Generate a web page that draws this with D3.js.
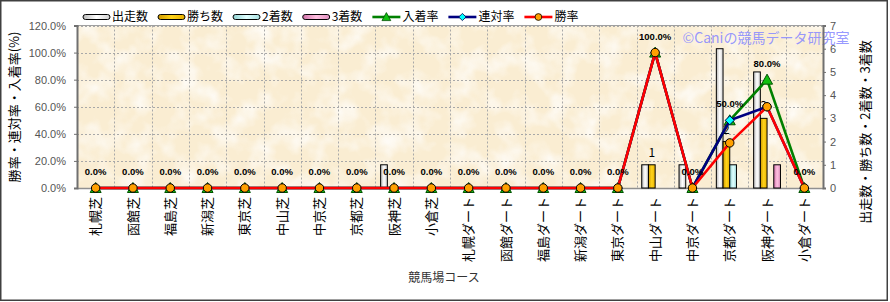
<!DOCTYPE html>
<html>
<head>
<meta charset="utf-8">
<script src="https://cdn.jsdelivr.net/npm/d3@7/dist/d3.min.js"></script>
<style>
    html, body { margin: 0; padding: 0; background: #fff; }
    #chart { width: 890px; height: 302px; }
    text { font-family: "Noto Sans CJK JP", "Noto Sans", sans-serif; }
</style>
</head>
<body>
<div id="chart"></div>
<script>
// Course names (x axis)
const courses = [
    '札幌芝', '函館芝', '福島芝', '新潟芝', '東京芝', '中山芝', '中京芝', '京都芝', '阪神芝', '小倉芝',
    '札幌ダート', '函館ダート', '福島ダート', '新潟ダート', '東京ダート',
    '中山ダート', '中京ダート', '京都ダート', '阪神ダート', '小倉ダート'
];

// Counts (right axis)
const starts  = [0, 0, 0, 0, 0, 0, 0, 0, 1, 0, 0, 0, 0, 0, 0, 1, 1, 6, 5, 0];
const wins    = [0, 0, 0, 0, 0, 0, 0, 0, 0, 0, 0, 0, 0, 0, 0, 1, 0, 2, 3, 0];
const seconds = [0, 0, 0, 0, 0, 0, 0, 0, 0, 0, 0, 0, 0, 0, 0, 0, 0, 1, 0, 0];
const thirds  = [0, 0, 0, 0, 0, 0, 0, 0, 0, 0, 0, 0, 0, 0, 0, 0, 0, 0, 1, 0];

// Rates in % (left axis)
const placeRate  = [0, 0, 0, 0, 0, 0, 0, 0, 0, 0, 0, 0, 0, 0, 0, 100, 0, 50, 80, 0];
const rentaiRate = [0, 0, 0, 0, 0, 0, 0, 0, 0, 0, 0, 0, 0, 0, 0, 100, 0, 50, 60, 0];
const winRate    = [0, 0, 0, 0, 0, 0, 0, 0, 0, 0, 0, 0, 0, 0, 0, 100, 0, 33.3, 60, 0];

// Axis ticks
const leftTicks  = [0, 20, 40, 60, 80, 100, 120];
const rightTicks = [0, 1, 2, 3, 4, 5, 6, 7];

class CourseChart {
    constructor(containerId) {
        this.width = 890;
        this.height = 302;
        this.plot = {left: 77, right: 823, top: 25.5, bottom: 188};

        this.barSeries = [
            {name: '出走数', values: starts,  grad: 'g-starts'},
            {name: '勝ち数', values: wins,    grad: 'g-wins'},
            {name: '2着数',  values: seconds, grad: 'g-second'},
            {name: '3着数',  values: thirds,  grad: 'g-third'}
        ];
        this.lineSeries = [
            {name: '入着率', values: placeRate,  color: '#008000', marker: 'triangle'},
            {name: '連対率', values: rentaiRate, color: '#000080', marker: 'diamond'},
            {name: '勝率',   values: winRate,    color: '#ff0000', marker: 'circle'}
        ];

        this.svg = d3.select(containerId).append('svg')
            .attr('width', this.width)
            .attr('height', this.height);

        this.render();
    }

    render() {
        const p = this.plot;

        this.x = d3.scaleBand().domain(courses).range([p.left, p.right]);
        this.xSub = d3.scaleBand()
            .domain(this.barSeries.map(d => d.name))
            .range([0, this.x.bandwidth()])
            .paddingInner(0)
            .paddingOuter(0.78);
        this.yLeft = d3.scaleLinear().domain([0, 120]).range([p.bottom, p.top]);
        this.yRight = d3.scaleLinear().domain([0, 7]).range([p.bottom, p.top]);

        this.defs();
        this.background();
        this.drawAxes();
        this.drawBars();
        this.drawLines();
        this.drawLegend();

        // outer frame
        this.svg.append('rect')
            .attr('x', 0.75).attr('y', 0.75)
            .attr('width', 886.5).attr('height', 299.5)
            .attr('fill', 'none')
            .attr('stroke', '#404040')
            .attr('stroke-width', 1.5);
    }

    defs() {
        const defs = this.svg.append('defs');
        const grads = {
            'g-starts': ['#b8b8b8', '#ffffff', '#d0d0d0'],
            'g-wins':   ['#d09a00', '#ffd41a', '#e8b000'],
            'g-second': ['#8fd0d0', '#e0ffff', '#a8e0e0'],
            'g-third':  ['#d070a8', '#ffc0e0', '#e090c0']
        };
        Object.entries(grads).forEach(([id, c]) => {
            const g = defs.append('linearGradient').attr('id', id)
                .attr('x1', 0).attr('x2', 1).attr('y1', 0).attr('y2', 0);
            g.append('stop').attr('offset', '0%').attr('stop-color', c[0]);
            g.append('stop').attr('offset', '50%').attr('stop-color', c[1]);
            g.append('stop').attr('offset', '100%').attr('stop-color', c[2]);
        });

        // parchment grain
        const f = defs.append('filter').attr('id', 'grain')
            .attr('x', 0).attr('y', 0).attr('width', '100%').attr('height', '100%');
        f.append('feTurbulence')
            .attr('type', 'fractalNoise')
            .attr('baseFrequency', '0.04')
            .attr('numOctaves', 3)
            .attr('seed', 7);
        f.append('feColorMatrix')
            .attr('type', 'matrix')
            .attr('values', '0 0 0 0 1  0 0 0 0 1  0 0 0 0 1  2.2 0 0 0 -0.9');
        f.append('feComposite').attr('in2', 'SourceGraphic').attr('operator', 'in');
    }

    background() {
        const p = this.plot;
        const w = p.right - p.left, h = p.bottom - p.top;

        this.svg.append('rect')
            .attr('x', p.left).attr('y', p.top)
            .attr('width', w).attr('height', h)
            .attr('fill', '#faedd2');
        this.svg.append('rect')
            .attr('x', p.left).attr('y', p.top)
            .attr('width', w).attr('height', h)
            .attr('fill', '#fff')
            .attr('filter', 'url(#grain)')
            .attr('opacity', 0.8);

        // dotted grid
        const grid = this.svg.append('g')
            .attr('stroke', '#a8a8a8')
            .attr('stroke-width', 1)
            .attr('stroke-dasharray', '2,2');
        grid.selectAll('line.h')
            .data(leftTicks.slice(1))
            .enter().append('line')
            .attr('x1', p.left).attr('x2', p.right)
            .attr('y1', d => Math.round(this.yLeft(d)) + 0.5)
            .attr('y2', d => Math.round(this.yLeft(d)) + 0.5);
        grid.selectAll('line.v')
            .data(courses.slice(1))
            .enter().append('line')
            .attr('x1', d => Math.round(this.x(d)) + 0.5)
            .attr('x2', d => Math.round(this.x(d)) + 0.5)
            .attr('y1', p.top).attr('y2', p.bottom);

        // watermark
        this.svg.append('text')
            .attr('x', 766).attr('y', 43)
            .attr('text-anchor', 'middle')
            .attr('font-size', '14px')
            .attr('fill', '#8a8cff')
            .attr('fill-opacity', 0.9)
            .text('©Caniの競馬データ研究室');
    }

    drawBars() {
        const g = this.svg.append('g');
        this.barSeries.forEach(s => {
            g.selectAll(null)
                .data(s.values.map((v, i) => ({course: courses[i], v})).filter(d => d.v > 0))
                .enter().append('rect')
                .attr('x', d => this.x(d.course) + this.xSub(s.name))
                .attr('y', d => this.yRight(d.v))
                .attr('width', this.xSub.bandwidth())
                .attr('height', d => this.yRight(0) - this.yRight(d.v))
                .attr('fill', `url(#${s.grad})`)
                .attr('stroke', '#000')
                .attr('stroke-width', 1);
        });

        // value labels on win bars
        g.selectAll('text.win-label')
            .data(wins.map((v, i) => ({course: courses[i], v})).filter(d => d.v > 0))
            .enter().append('text')
            .attr('class', 'win-label')
            .attr('x', d => this.x(d.course) + this.xSub('勝ち数') + this.xSub.bandwidth() / 2)
            .attr('y', d => this.yRight(d.v) - 8)
            .attr('text-anchor', 'middle')
            .attr('font-size', '12px')
            .attr('fill', '#000')
            .text(d => d.v);
    }

    markerPath(type) {
        if (type === 'triangle') return 'M0,-5.5L5.5,4.5L-5.5,4.5Z';
        if (type === 'diamond') return 'M0,-4.5L4.5,0L0,4.5L-4.5,0Z';
        return d3.symbol().type(d3.symbolCircle).size(56)();
    }

    markerStyle(sel, type) {
        if (type === 'triangle') sel.attr('fill', '#10c010').attr('stroke', '#005000');
        else if (type === 'diamond') sel.attr('fill', '#00ffff').attr('stroke', '#000050');
        else sel.attr('fill', '#ffa000').attr('stroke', '#000');
        sel.attr('stroke-width', 1);
    }

    drawLines() {
        const cx = d => this.x(d.course) + this.x.bandwidth() / 2;
        const line = d3.line().x(cx).y(d => this.yLeft(d.v));
        const g = this.svg.append('g');

        this.lineSeries.forEach(s => {
            const pts = s.values.map((v, i) => ({course: courses[i], v}));
            g.append('path')
                .datum(pts)
                .attr('d', line)
                .attr('fill', 'none')
                .attr('stroke', s.color)
                .attr('stroke-width', 2.6)
                .attr('stroke-linejoin', 'round');
            g.selectAll(null)
                .data(pts)
                .enter().append('path')
                .attr('transform', d => `translate(${cx(d)},${this.yLeft(d.v)})`)
                .attr('d', this.markerPath(s.marker))
                .call(sel => this.markerStyle(sel, s.marker));
        });

        // 入着率 labels
        g.selectAll('text.rate-label')
            .data(placeRate.map((v, i) => ({course: courses[i], v})))
            .enter().append('text')
            .attr('class', 'rate-label')
            .attr('x', cx)
            .attr('y', d => this.yLeft(d.v) - 13)
            .attr('text-anchor', 'middle')
            .style('font-family', '"Liberation Sans", Arial, sans-serif')
            .attr('font-size', '9.5px')
            .attr('font-weight', 'bold')
            .attr('fill', '#000')
            .text(d => d.v.toFixed(1) + '%');
    }

    drawAxes() {
        const p = this.plot;

        // plot top border
        this.svg.append('line')
            .attr('x1', p.left).attr('x2', p.right)
            .attr('y1', p.top).attr('y2', p.top)
            .attr('stroke', '#a0a0a0');

        const bottom = this.svg.append('g')
            .attr('transform', `translate(0,${p.bottom})`)
            .call(d3.axisBottom(this.x).tickSize(0).tickPadding(0));
        bottom.select('.domain').attr('stroke', '#909090').attr('stroke-width', 1.5);
        bottom.selectAll('.tick text')
            .attr('transform', 'translate(0,9) rotate(-90)')
            .attr('x', 0).attr('y', 0).attr('dy', '0.35em')
            .attr('text-anchor', 'end')
            .attr('font-size', '13px')
            .attr('fill', '#000');

        const left = this.svg.append('g')
            .attr('transform', `translate(${p.left},0)`)
            .call(d3.axisLeft(this.yLeft).tickValues(leftTicks)
                .tickFormat(d => d.toFixed(1) + '%').tickSize(3).tickPadding(8));
        const right = this.svg.append('g')
            .attr('transform', `translate(${p.right},0)`)
            .call(d3.axisRight(this.yRight).tickValues(rightTicks)
                .tickFormat(d3.format('d')).tickSize(3).tickPadding(4));
        [left, right].forEach(a => {
            a.select('.domain').attr('stroke', '#707070').attr('stroke-width', 2);
            a.selectAll('.tick line').attr('stroke', '#707070');
            a.selectAll('.tick text')
                .attr('font-size', '11px')
                .attr('fill', '#555')
                .style('font-family', '"Liberation Sans", Arial, sans-serif');
        });

        // axis titles
        this.svg.append('text')
            .attr('transform', 'translate(14,107) rotate(-90)')
            .attr('text-anchor', 'middle')
            .attr('dy', '0.35em')
            .attr('font-size', '13px')
            .attr('fill', '#000')
            .text('勝率・連対率・入着率(%)');
        this.svg.append('text')
            .attr('transform', 'translate(865,132) rotate(-90)')
            .attr('text-anchor', 'middle')
            .attr('dy', '0.35em')
            .attr('font-size', '13px')
            .attr('fill', '#000')
            .text('出走数・勝ち数・2着数・3着数');
        this.svg.append('text')
            .attr('x', 444).attr('y', 278)
            .attr('text-anchor', 'middle')
            .attr('dy', '0.35em')
            .attr('font-size', '12px')
            .attr('fill', '#333')
            .text('競馬場コース');
    }

    drawLegend() {
        const g = this.svg.append('g').attr('transform', 'translate(83,17)');
        let x = 0;
        this.barSeries.forEach(s => {
            g.append('rect')
                .attr('x', x).attr('y', -2.5)
                .attr('width', 27).attr('height', 5)
                .attr('rx', 2.5)
                .attr('fill', `url(#${s.grad})`)
                .attr('stroke', '#000');
            const t = g.append('text')
                .attr('x', x + 29).attr('dy', '0.35em')
                .attr('font-size', '12px')
                .attr('fill', '#000')
                .text(s.name);
            x += 29 + t.node().getComputedTextLength() + 10;
        });
        this.lineSeries.forEach(s => {
            g.append('line')
                .attr('x1', x).attr('x2', x + 28)
                .attr('stroke', s.color).attr('stroke-width', 2.6);
            g.append('path')
                .attr('transform', `translate(${x + 14},0) scale(0.8)`)
                .attr('d', this.markerPath(s.marker))
                .call(sel => this.markerStyle(sel, s.marker));
            const t = g.append('text')
                .attr('x', x + 30).attr('dy', '0.35em')
                .attr('font-size', '12px')
                .attr('fill', '#000')
                .text(s.name);
            x += 30 + t.node().getComputedTextLength() + 10;
        });
    }
}

new CourseChart('#chart');
</script>
</body>
</html>
